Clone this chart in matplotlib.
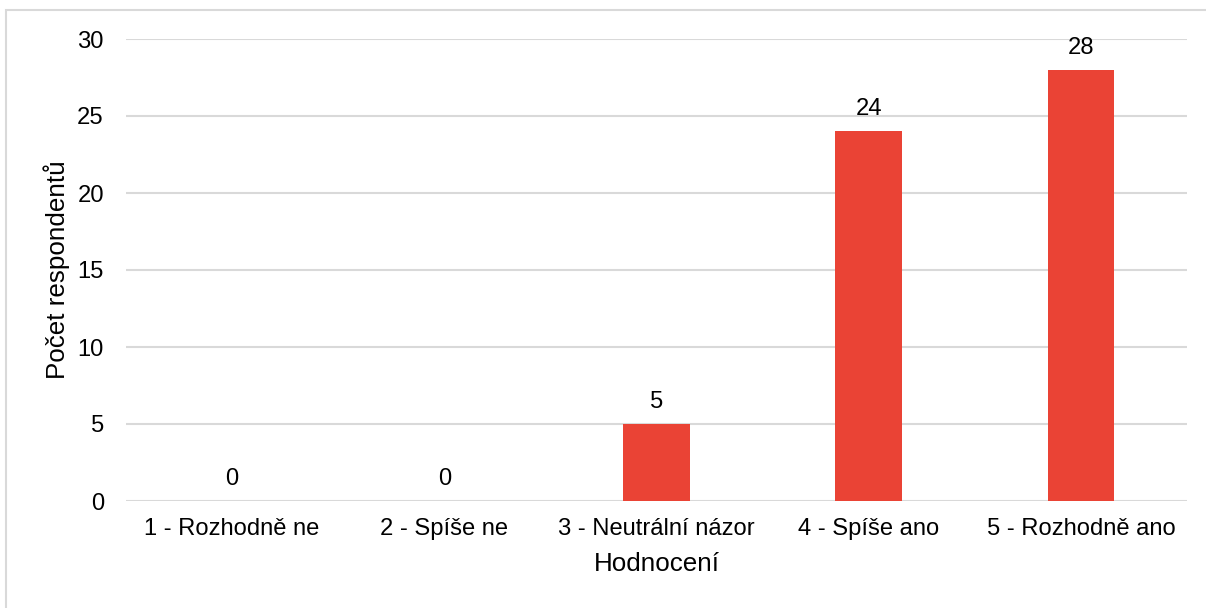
import matplotlib
matplotlib.use("Agg")
import matplotlib.pyplot as plt
from matplotlib.patches import Rectangle

categories = ["1 - Rozhodně ne", "2 - Spíše ne", "3 - Neutrální názor", "4 - Spíše ano", "5 - Rozhodně ano"]
values = [0, 0, 5, 24, 28]
yticks = [0, 5, 10, 15, 20, 25, 30]

plt.rcParams['font.family'] = ['Liberation Sans', 'DejaVu Sans']
FS = 17.1
FS_T = 18.7

W, H = 1206, 608
fig = plt.figure(figsize=(W / 100, H / 100), dpi=100)
ax = fig.add_axes([126 / W, 1 - 501 / H, (1187 - 126) / W, (501 - 39) / H])

x = list(range(len(categories)))
bars = ax.bar(x, values, width=0.314, color="#EA4335", zorder=3)
ax.set_xlim(-0.5, len(categories) - 0.5)
ax.set_ylim(0, 30)
ax.set_yticks(yticks)
ax.set_yticklabels([str(t) for t in yticks], fontsize=FS, color="#000000")
ax.set_xticks(x)
ax.set_xticklabels(categories, fontsize=FS, color="#000000")
ax.tick_params(axis="both", length=0)
ax.tick_params(axis="y", pad=16)
ax.tick_params(axis="x", pad=12)
ax.grid(axis="y", color="#D9D9D9", linewidth=1.5, zorder=0)
for s in ax.spines.values():
    s.set_visible(False)

for xi, v in zip(x, values):
    ax.annotate(str(v), (xi, v), xytext=(0, 8), textcoords="offset points",
                ha="center", va="bottom", fontsize=FS, color="#000000")

ax.set_xlabel("Hodnocení", fontsize=FS_T, labelpad=9)
ax.set_ylabel("Počet respondentů", fontsize=FS_T, labelpad=5)

fig.patches.append(Rectangle((6 / W, -0.05), 1.1, 1 - 10 / H + 0.05, transform=fig.transFigure,
                             fill=False, edgecolor="#D9D9D9", linewidth=1.5, zorder=0))

fig.savefig("out.png", dpi=100, facecolor="white")
